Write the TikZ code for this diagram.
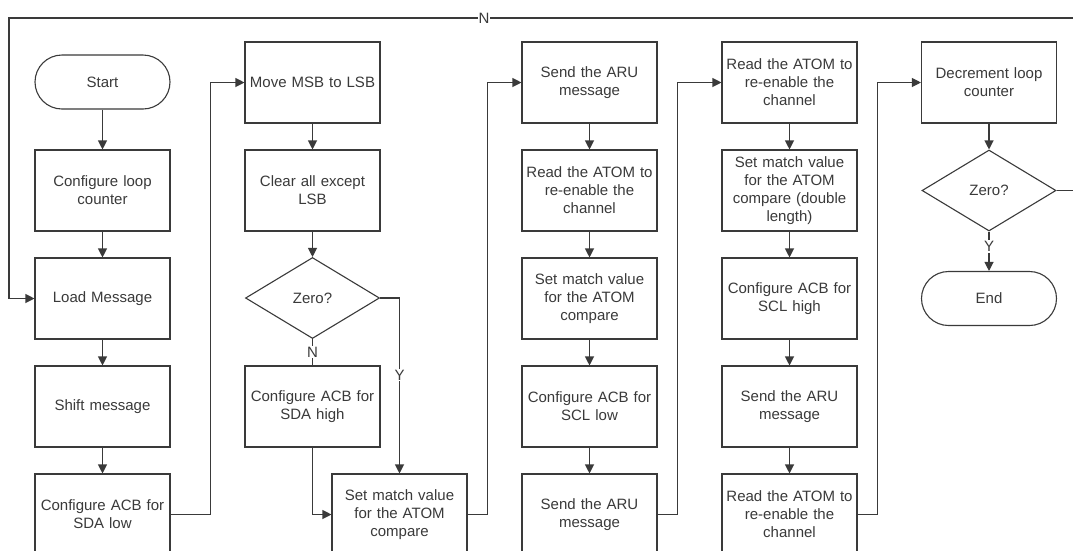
\documentclass[tikz,border=0pt]{standalone}
\usepackage{fontspec}
\setmainfont{Liberation Sans}
\usetikzlibrary{shapes,arrows.meta}
\definecolor{ink}{HTML}{3A3A3A}
\tikzstyle{block}=[draw, text width=135pt, align=center,
    minimum height=81pt, inner sep=0pt, fill=white]
\tikzstyle{term}=[draw, rounded rectangle, minimum width=135pt,
    minimum height=54pt, inner sep=0pt, fill=white]
\tikzstyle{decision}=[draw, diamond, aspect=1.65, minimum width=134pt,
    minimum height=81pt, inner sep=0pt, fill=white]
\tikzstyle{lbl}=[fill=white, inner sep=1pt]

\begin{document}
\begin{tikzpicture}[x=1pt, y=1pt, color=ink, line width=1.1pt,
    font=\fontsize{15}{18}\selectfont,
    >={Triangle[length=9pt,width=9pt]}]
    \path[use as bounding box, clip] (0,0) rectangle (1073,-550);

    % first column
    \node (start)[term] at (102.5,-82) {Start};
    \path (start)+(0,-108.5) node (cfg)[block] {Configure loop\\counter};
    \path (cfg)+(0,-108) node (load)[block] {Load Message};
    \path (load)+(0,-108) node (shift)[block] {Shift message};
    \path (shift)+(0,-108) node (sdalow)[block] {Configure ACB for\\SDA low};

    % second column
    \node (move)[block] at (312.5,-82.5) {Move MSB to LSB};
    \path (move)+(0,-108) node (clear)[block] {Clear all except\\LSB};
    \path (clear)+(0,-107.5) node (zero1)[decision] {Zero?};
    \path (clear)+(0,-216) node (sdahigh)[block] {Configure ACB for\\SDA high};
    \node (setm)[block] at (399.5,-514.5) {Set match value\\for the ATOM\\compare};

    % third column
    \node (aru1)[block] at (589.5,-82.5) {Send the ARU\\message};
    \path (aru1)+(0,-108) node (reada)[block] {Read the ATOM to\\re-enable the\\channel};
    \path (reada)+(0,-108) node (setmb)[block] {Set match value\\for the ATOM\\compare};
    \path (setmb)+(0,-108) node (scllow)[block] {Configure ACB for\\SCL low};
    \path (scllow)+(0,-108) node (aru2)[block] {Send the ARU\\message};

    % fourth column
    \node (readb)[block] at (789.5,-82.5) {Read the ATOM to\\re-enable the\\channel};
    \path (readb)+(0,-108) node (setmd)[block] {Set match value\\for the ATOM\\compare (double\\length)};
    \path (setmd)+(0,-108) node (sclhigh)[block] {Configure ACB for\\SCL high};
    \path (sclhigh)+(0,-108) node (aru3)[block] {Send the ARU\\message};
    \path (aru3)+(0,-108) node (readc)[block] {Read the ATOM to\\re-enable the\\channel};

    % last column
    \node (dec)[block] at (989,-82.5) {Decrement loop\\counter};
    \path (dec)+(0,-108) node (zero2)[decision] {Zero?};
    \path (zero2)+(0,-108) node (fin)[term] {End};

    \coordinate (loopR) at (1095,-18);
    \coordinate (loopL) at (9,-18);

    %%% arrows
    \path [draw, ->] (start.south) -- (cfg.north);
    \path [draw, ->] (cfg.south) -- (load.north);
    \path [draw, ->] (load.south) -- (shift.north);
    \path [draw, ->] (shift.south) -- (sdalow.north);
    \path [draw, ->] (sdalow.east) -- +(40,0) |- (move.west);

    \path [draw, ->] (move.south) -- (clear.north);
    \path [draw, ->] (clear.south) -- (zero1.north);
    \path [draw, -] (zero1.south) -- node[lbl] {N} (sdahigh.north);
    \path [draw, ->] (zero1.east) -| node[lbl, pos=0.72] {Y} (setm.north);
    \path [draw, ->] (sdahigh.south) |- (setm.west);
    \path [draw, ->] (setm.east) -- +(20,0) |- (aru1.west);

    \path [draw, ->] (aru1.south) -- (reada.north);
    \path [draw, ->] (reada.south) -- (setmb.north);
    \path [draw, ->] (setmb.south) -- (scllow.north);
    \path [draw, ->] (scllow.south) -- (aru2.north);
    \path [draw, ->] (aru2.east) -- +(20,0) |- (readb.west);

    \path [draw, ->] (readb.south) -- (setmd.north);
    \path [draw, ->] (setmd.south) -- (sclhigh.north);
    \path [draw, ->] (sclhigh.south) -- (aru3.north);
    \path [draw, ->] (aru3.south) -- (readc.north);
    \path [draw, ->] (readc.east) -- +(20,0) |- (dec.west);

    \path [draw, ->] (dec.south) -- (zero2.north);
    \path [draw, ->] (zero2.south) -- node[lbl, pos=0.38] {Y} (fin.north);
    \path [draw, ->] (zero2.east) -| (loopR) -- node[lbl, pos=0.5626] {N} (loopL) |- (load.west);

\end{tikzpicture}
\end{document}
